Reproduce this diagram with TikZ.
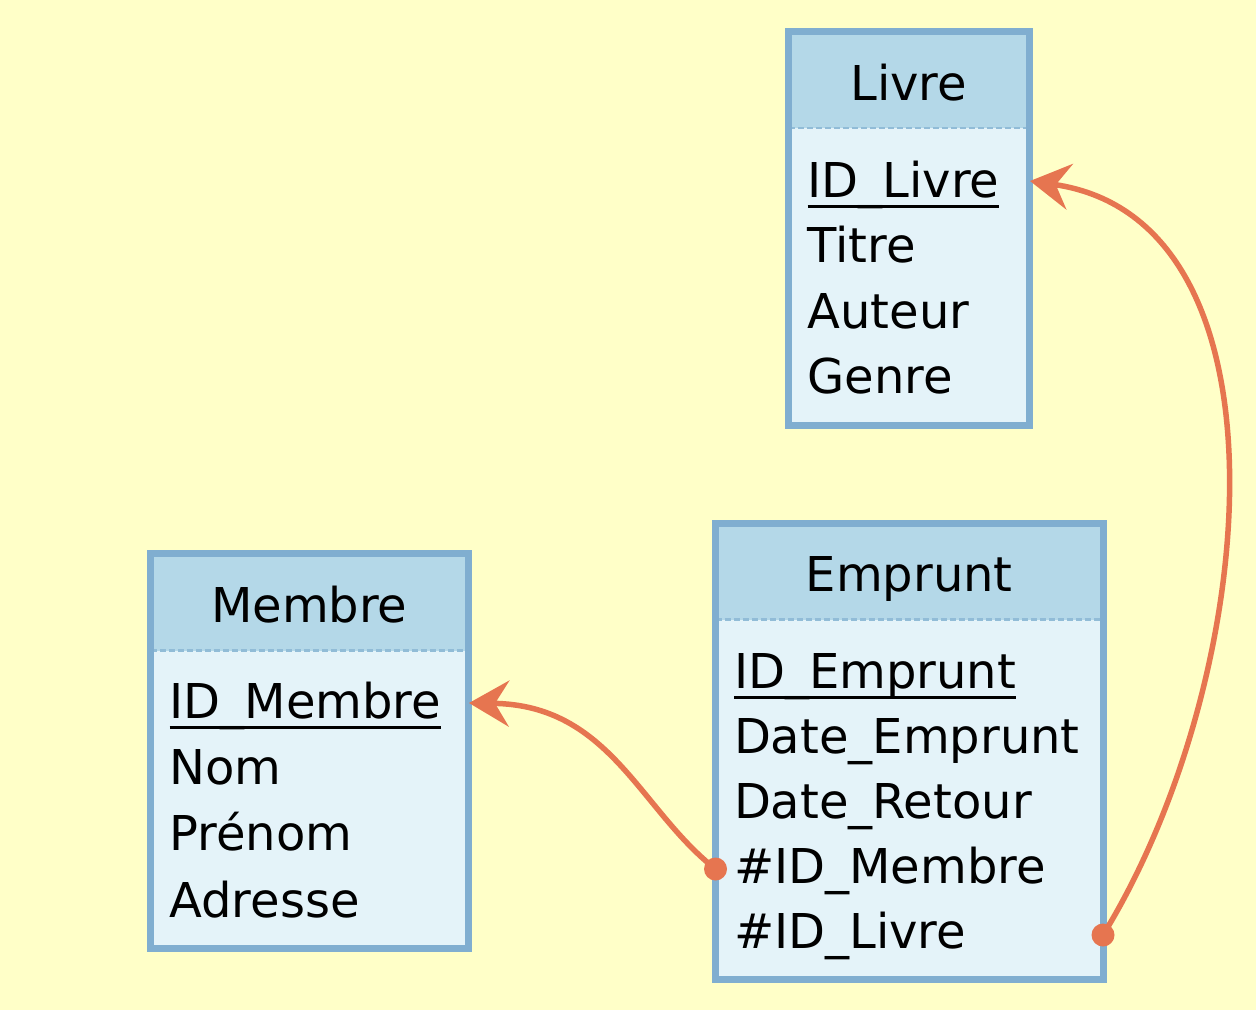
\documentclass[tikz,border=0pt]{standalone}
\usepackage{fontspec}
\setmainfont{DejaVu Sans}
\usetikzlibrary{arrows.meta}
\definecolor{bgc}{RGB}{255,255,200}
\definecolor{hdrc}{RGB}{180,216,232}
\definecolor{bodyc}{RGB}{228,243,249}
\definecolor{brdc}{RGB}{128,174,208}
\definecolor{sepc}{RGB}{145,188,215}
\definecolor{connc}{RGB}{230,117,80}
\tikzset{
  bodybox/.style={rectangle, fill=bodyc, draw=none, inner sep=0pt, outer sep=0pt, anchor=north west},
  hdrfill/.style={fill=hdrc},
  border/.style={draw=brdc, line width=7pt},
  sepline/.style={draw=sepc, line width=2.5pt, dash pattern=on 6pt off 3pt},
  txt/.style={inner sep=0pt, outer sep=0pt, anchor=base west, font=\fontsize{48}{58}\selectfont, text=black},
  ttl/.style={inner sep=0pt, outer sep=0pt, anchor=base, font=\fontsize{48}{58}\selectfont, text=black},
  uline/.style={draw=black, line width=3pt},
  conn/.style={draw=connc, line width=5.5pt, -{Stealth[length=40pt,width=46pt,inset=14pt]}},
  dotc/.style={fill=connc},
}
\begin{document}
\begin{tikzpicture}[x=1pt,y=-1pt]
\useasboundingbox[fill=bgc] (0,0) rectangle (1256,1010);

% ---- Livre ----
\node[bodybox, minimum width=240.5pt, minimum height=394.5pt] (livre) at (788.5,31) {};
\coordinate (livresep) at (0,128);
\fill[hdrfill] (livre.north west) rectangle (livre.east |- livresep);
\draw[sepline] (livre.west |- livresep) -- (livre.east |- livresep);
\draw[border] (livre.north west) rectangle (livre.south east);
\node[ttl] (livret) at (908.75,100) {Livre};
\node[txt] (livreid) at (807.5,197) {ID\_Livre};
\draw[uline] ([yshift=-9pt]livreid.base west) -- ([yshift=-9pt]livreid.base east);
\node[txt] (livre2) at (807.5,262.5) {Titre};
\node[txt] (livre3) at (807.5,328) {Auteur};
\node[txt] (livre4) at (807.5,393.5) {Genre};

% ---- Membre ----
\node[bodybox, minimum width=317.5pt, minimum height=395pt] (membre) at (150.5,553.5) {};
\coordinate (membresep) at (0,650.5);
\fill[hdrfill] (membre.north west) rectangle (membre.east |- membresep);
\draw[sepline] (membre.west |- membresep) -- (membre.east |- membresep);
\draw[border] (membre.north west) rectangle (membre.south east);
\node[ttl] (membret) at (309.25,622.5) {Membre};
\node[txt] (membreid) at (169.5,718) {ID\_Membre};
\draw[uline] ([yshift=-9pt]membreid.base west) -- ([yshift=-9pt]membreid.base east);
\node[txt] (membre2) at (169.5,784.3) {Nom};
\node[txt] (membre3) at (169.5,850.6) {Prénom};
\node[txt] (membre4) at (169.5,917) {Adresse};

% ---- Emprunt ----
\node[bodybox, minimum width=387.5pt, minimum height=456.5pt] (emprunt) at (715.5,523) {};
\coordinate (empruntsep) at (0,619.5);
\fill[hdrfill] (emprunt.north west) rectangle (emprunt.east |- empruntsep);
\draw[sepline] (emprunt.west |- empruntsep) -- (emprunt.east |- empruntsep);
\draw[border] (emprunt.north west) rectangle (emprunt.south east);
\node[ttl] (empruntt) at (909.25,591.7) {Emprunt};
\node[txt] (empruntid) at (734,688) {ID\_Emprunt};
\draw[uline] ([yshift=-9pt]empruntid.base west) -- ([yshift=-9pt]empruntid.base east);
\node[txt] (emprunt2) at (734,753) {Date\_Emprunt};
\node[txt] (emprunt3) at (734,818) {Date\_Retour};
\node[txt] (emprunt4) at (734,883) {\#ID\_Membre};
\node[txt] (emprunt5) at (734,948) {\#ID\_Livre};

% ---- connector anchors ----
\coordinate (livreidR) at (1030,181);
\coordinate (membreidR) at (469,703);
\coordinate (empmemL) at (715.5,869);
\coordinate (emplivR) at (1103,935);

% ---- connectors ----
\draw[conn] (empmemL) .. controls (640,810) and (610,705) .. (membreidR);
\draw[conn] (emplivR) .. controls (1260,680) and (1300,220) .. (livreidR);
\fill[dotc] (empmemL) circle (11.5);
\fill[dotc] (emplivR) circle (11.5);
\end{tikzpicture}
\end{document}
